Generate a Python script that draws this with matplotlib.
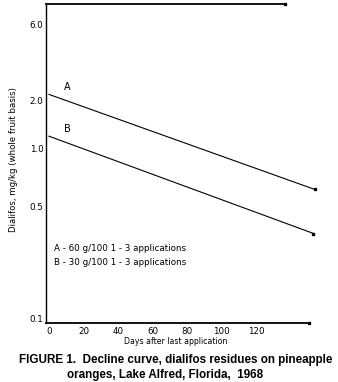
import numpy as np
import matplotlib.pyplot as plt

# data
days = [0, 154]
series_a = [2.2, 0.61]
series_b = [1.19, 0.335]
ytick_vals = [0.1, 0.5, 1.0, 2.0, 6.0]
ytick_labels = ['0.1', '0.5', '1.0', '2.0', '6.0']
xtick_vals = [0, 20, 40, 60, 80, 100, 120]
legend_lines = ['A - 60 g/100 1 - 3 applications',
                'B - 30 g/100 1 - 3 applications']
caption = ['FIGURE 1.  Decline curve, dialifos residues on pineapple',
           'oranges, Lake Alfred, Florida,  1968']

# the hand-drawn log axis is not quite uniform; map it piecewise
L = np.log10([1e-3, 0.093, 0.1, 0.5, 1.0, 2.0, 6.0, 8.1, 1e3])
P = -np.array([323 + 1.97 * 160, 323, 318, 206, 148, 101, 25, 4, 4 - 2.09 * 159])


def fwd(v):
    v = np.clip(np.asarray(v, dtype=float), 1e-6, None)
    return np.interp(np.log10(v), L, P)


def inv(y):
    return 10 ** np.interp(y, P, L)


fig = plt.figure(figsize=(3.38, 3.82), dpi=100)
ax = fig.add_axes([46.4 / 338, 59 / 382, (318 - 46.4) / 338, 319 / 382])
ax.set_yscale('function', functions=(fwd, inv))
ax.set_xlim(-1.5, 156)
ax.set_ylim(0.093, 8.1)

for s in ['top', 'right', 'bottom']:
    ax.spines[s].set_visible(False)
ax.spines['left'].set_linewidth(1.0)

# top line and bottom axis line with small end squares
ax.plot([-1.5, 137], [8.1, 8.1], color='black', lw=1.3, clip_on=False)
ax.plot([137], [8.1], 's', color='black', ms=2, clip_on=False)
ax.plot([-1.5, 151], [0.093, 0.093], color='black', lw=1.3, clip_on=False)
ax.plot([151], [0.093], 's', color='black', ms=2, clip_on=False)

ax.plot(days, series_a, color='black', lw=0.8, clip_on=False)
ax.plot(days[-1:], series_a[-1:], 's', color='black', ms=1.8, clip_on=False)
ax.plot(days, series_b, color='black', lw=0.8, clip_on=False)
ax.plot([153], series_b[-1:], 's', color='black', ms=1.8, clip_on=False)
ax.text(10.5, 2.45, 'A', fontsize=7, ha='center', va='center')
ax.text(10.5, 1.32, 'B', fontsize=7, ha='center', va='center')

ax.set_yticks(ytick_vals)
ax.set_yticklabels(ytick_labels)
ax.minorticks_off()
ax.set_xticks(xtick_vals)
ax.tick_params(length=0, labelsize=6.3, pad=2)
ax.tick_params(axis='x', pad=3)

ax.text(3, 0.272, legend_lines[0], fontsize=6.3, va='center')
ax.text(3, 0.222, legend_lines[1], fontsize=6.3, va='center')

fig.text(14 / 338, 1 - 160 / 382, 'Dialifos, mg/kg (whole fruit basis)',
         rotation=90, fontsize=6.2, ha='center', va='center')
fig.text(176 / 338, 1 - 342 / 382, 'Days after last application',
         fontsize=5.6, ha='center', va='center')
fig.text(176 / 338, 1 - 360 / 382, caption[0], fontsize=8.4,
         fontweight='bold', family='Liberation Sans', ha='center', va='center')
fig.text(165 / 338, 1 - 375 / 382, caption[1], fontsize=8.4,
         fontweight='bold', family='Liberation Sans', ha='center', va='center')

fig.savefig('out.png', dpi=100)
